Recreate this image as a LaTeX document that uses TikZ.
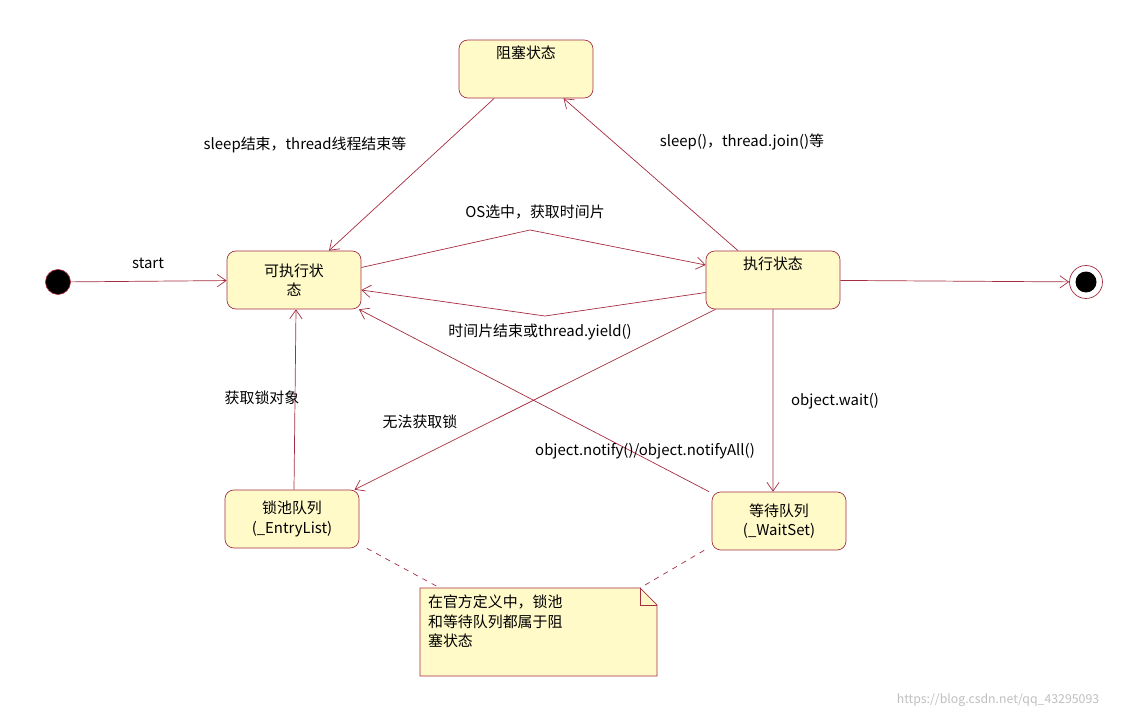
\documentclass[tikz,border=0pt]{standalone}
\usepackage{fontspec}
\setmainfont{Noto Sans CJK SC}
\usepackage{tikz}
\usetikzlibrary{arrows.meta,positioning,shapes.misc}
\definecolor{umlred}{RGB}{165,45,65}
\definecolor{umlfill}{RGB}{255,250,200}
\tikzset{
  statebox/.style={ draw=umlred, fill=umlfill, rounded corners=5pt, minimum width=2.68cm, minimum height=1.16cm, align=center, font=\fontsize{8.5}{11}\selectfont }
}
\tikzset{
  trans/.style={ draw=umlred, -{Straight Barb[length=5pt,width=7pt]} }
}
\tikzset{
  lbl/.style={ font=\fontsize{8.5}{11}\selectfont, inner sep=1pt }
}
\begin{document}
\begin{tikzpicture}[x=0.02cm, y=-0.02cm]
      \useasboundingbox (0,0) rectangle (1129,719);
      \node[statebox] (blocked) at (526, 69) {阻塞状态\\[8pt]};
      \node[statebox] (ready) at (294, 280) {可执行状\\态};
      \node[statebox] (running) at (773, 280) {执行状态\\[8pt]};
      \node[statebox] (entry) at (292, 519) {锁池队列\\(\_EntryList)};
      \node[statebox] (wait) at (779, 521) {等待队列\\(\_WaitSet)};
      \node[circle, fill=black, draw=umlred, minimum size=0.5cm] (init) at (58, 282) {};
      \node[circle, draw=umlred, fill=white, minimum size=0.66cm] (final) at (1086, 282) {};
      \node[circle, fill=black, minimum size=0.42cm] at (final) {};

      \draw[trans] (init) -- (ready);
      \draw[trans] (blocked) -- ([xshift=0.7cm]ready.north);
      \draw[trans] ([xshift=-0.7cm]running.north) -- ([xshift=0.75cm]blocked.south);
      \coordinate (osbend) at (530, 230);
      \draw[trans] ([yshift=0.25cm]ready.east) -- (osbend) -- ([yshift=0.3cm]running.west);
      \coordinate (yieldbend) at (545, 316);
      \draw[trans] ([yshift=-0.25cm]running.west) -- (yieldbend) -- ([yshift=-0.2cm]ready.east);
      \draw[trans] (running) -- (final);
      \draw[trans] ([xshift=-1.15cm]running.south) -- ([xshift=1.25cm]entry.north);
      \draw[trans] ([xshift=-1.4cm]wait.north) -- ([xshift=1.3cm]ready.south);
      \draw[trans] (running) -- ([xshift=-0.12cm]wait.north);
      \draw[trans] ([xshift=0.04cm]entry.north) -- ([xshift=0.04cm]ready.south);

      \node[lbl] (lstart) at (148, 263) {start};
      \node[lbl] (lsleepend) at (305, 145) {sleep结束，thread线程结束等};
      \node[lbl] (lsleep) at (742, 142) {sleep()，thread.join()等};
      \node[lbl] (los) at (535, 212) {OS选中，获取时间片};
      \node[lbl] (lyield) at (540, 332) {时间片结束或thread.yield()};
      \node[lbl] (lnolock) at (420, 422) {无法获取锁};
      \node[lbl] (lnotify) at (645, 451) {object.notify()/object.notifyAll()};
      \node[lbl] (lwait) at (835, 401) {object.wait()};
      \node[lbl] (lgetlock) at (262, 398) {获取锁对象};

      % note with folded corner
      \coordinate (na) at (440, 588);
      \draw[umlred, fill=umlfill] (420,588) -- (640,588) -- (657,605) -- (657,676) -- (420,676) -- cycle;
      \draw[umlred] (640,588) -- (640,605) -- (657,605);
      \node[lbl, anchor=north west, align=left] (note) at (426, 593) {在官方定义中，锁池\\和等待队列都属于阻\\塞状态};
      \coordinate (nb) at (640, 588);
      \draw[umlred, dashed] ([xshift=0.15cm]entry.south east) -- (na);
      \draw[umlred, dashed] ([xshift=-0.15cm]wait.south west) -- (nb);

      \node[font=\fontsize{7}{9}\selectfont, text=gray!50] (mark) at (998, 700) {https://blog.csdn.net/qq\_43295093};
\end{tikzpicture}
\end{document}
